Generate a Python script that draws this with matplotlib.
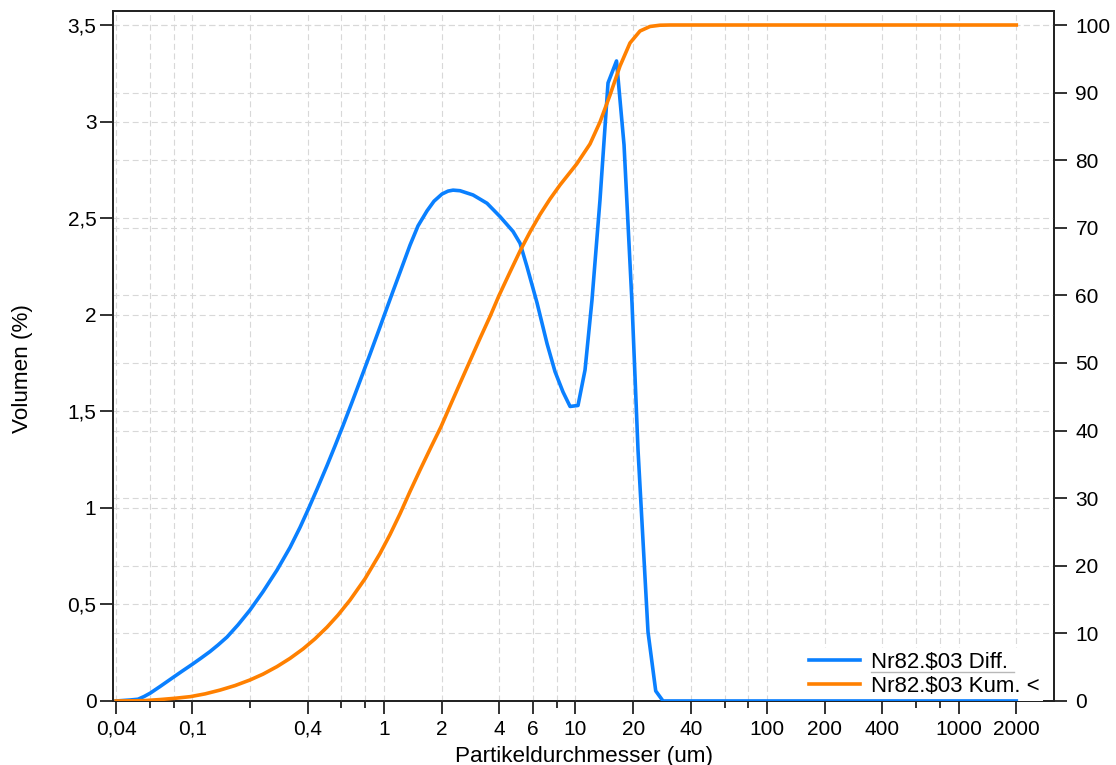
import matplotlib
matplotlib.use('Agg')
import matplotlib.pyplot as plt
from matplotlib.ticker import FixedLocator, FixedFormatter, NullFormatter
from matplotlib.lines import Line2D
from matplotlib.transforms import IdentityTransform

plt.rcParams['font.family'] = ['Liberation Sans', 'DejaVu Sans']
plt.rcParams['lines.scale_dashes'] = False

# ---- data ----
diff_x = [0.04, 0.0473, 0.0521, 0.0560, 0.0602, 0.0679, 0.0794, 0.0884, 0.0997, 0.1111,
          0.1238, 0.1363, 0.1518, 0.1732, 0.2002, 0.2340, 0.2769, 0.3237, 0.3651, 0.4019,
          0.4479, 0.5050, 0.5560, 0.6122, 0.6820, 0.7508, 0.8468, 0.9550, 1.0389, 1.1164,
          1.2292, 1.369, 1.5074, 1.6803, 1.8273, 2.0117, 2.1625, 2.2966, 2.4976, 2.920,
          3.454, 4.039, 4.723, 5.138, 5.588, 6.303, 7.108, 7.824, 8.611, 9.372, 10.31,
          11.22, 12.20, 13.43, 14.79, 16.38, 17.93, 19.73, 21.21, 23.92, 26.24, 28.64, 2000]
diff_y = [0.0, 0.005, 0.009, 0.023, 0.040, 0.075, 0.122, 0.154, 0.189, 0.222,
          0.256, 0.290, 0.331, 0.394, 0.471, 0.566, 0.678, 0.795, 0.899, 0.990,
          1.097, 1.219, 1.321, 1.426, 1.547, 1.657, 1.796, 1.937, 2.037, 2.122,
          2.234, 2.360, 2.460, 2.538, 2.588, 2.625, 2.640, 2.645, 2.642, 2.620,
          2.577, 2.508, 2.431, 2.370, 2.248, 2.061, 1.850, 1.705, 1.600, 1.525, 1.530,
          1.714, 2.077, 2.594, 3.200, 3.314, 2.879, 2.061, 1.300, 0.357, 0.052, 0.0, 0.0]

cum_x = [0.04, 0.0553, 0.0679, 0.0813, 0.0977, 0.1166, 0.1396, 0.1672, 0.2002, 0.2340,
         0.2769, 0.3237, 0.3785, 0.4372, 0.5050, 0.5764, 0.6660, 0.7973, 0.9550, 1.0769,
         1.2146, 1.369, 1.5443, 1.7629, 1.9877, 2.2148, 2.4976, 2.8166, 3.1759, 3.5815,
         3.990, 4.555, 5.138, 5.792, 6.533, 7.365, 8.304, 10.15, 11.91, 13.43, 15.15,
         17.08, 19.26, 21.72, 24.49, 27.62, 31.14, 2000]
cum_y = [0.0, 0.04, 0.21, 0.40, 0.64, 1.05, 1.61, 2.28, 3.11, 3.97,
         5.09, 6.30, 7.70, 9.20, 10.92, 12.71, 14.93, 18.08, 21.83, 24.63,
         27.70, 30.99, 34.17, 37.57, 40.58, 43.64, 47.0, 50.33, 53.65, 56.88,
         59.98, 63.46, 66.57, 69.38, 71.97, 74.26, 76.33, 79.44, 82.40, 85.65, 89.64,
         93.93, 97.34, 99.11, 99.78, 99.97, 100.0, 100.0]

series_labels = [r'Nr82.\$03 Diff.', r'Nr82.\$03 Kum. <']

x_major = [0.04, 0.1, 0.4, 1, 2, 4, 6, 10, 20, 40, 100, 200, 400, 1000, 2000]
x_major_labels = ['0,04', '0,1', '0,4', '1', '2', '4', '6', '10', '20', '40',
                  '100', '200', '400', '1000', '2000']
x_minor = [0.06, 0.08, 0.2, 0.6, 0.8, 8, 60, 80, 600, 800]

y_left_ticks = [0, 0.5, 1, 1.5, 2, 2.5, 3, 3.5]
y_left_labels = ['0', '0,5', '1', '1,5', '2', '2,5', '3', '3,5']
y_right_ticks = [0, 10, 20, 30, 40, 50, 60, 70, 80, 90, 100]
y_right_labels = ['0', '10', '20', '30', '40', '50', '60', '70', '80', '90', '100']

x_label = 'Partikeldurchmesser (um)'
y_label = 'Volumen (%)'

# ---- styling ----
BLUE = '#0a80ff'
ORANGE = '#ff8000'
GRID = '#d8d8d8'
TICK_FS = 15
LABEL_FS = 16.2
LEG_FS = 16

fig = plt.figure(figsize=(11.16, 7.65), dpi=100)
ax = fig.add_axes([0.1013, 0.0837, 0.9444 - 0.1013, 0.9856 - 0.0837])
ax2 = ax.twinx()
ax.set_zorder(2)
ax2.set_zorder(1)
ax.patch.set_visible(False)

ax.set_xscale('log')
ax.set_xlim(0.03858, 3145)
ax.set_ylim(0, 3.5725)
ax2.set_ylim(0, 102.07)

ax.xaxis.set_major_locator(FixedLocator(x_major))
ax.xaxis.set_major_formatter(FixedFormatter(x_major_labels))
ax.xaxis.set_minor_locator(FixedLocator(x_minor))
ax.xaxis.set_minor_formatter(NullFormatter())
ax.yaxis.set_major_locator(FixedLocator(y_left_ticks))
ax.yaxis.set_major_formatter(FixedFormatter(y_left_labels))
ax.yaxis.set_minor_locator(FixedLocator([]))
ax2.yaxis.set_major_locator(FixedLocator(y_right_ticks))
ax2.yaxis.set_major_formatter(FixedFormatter(y_right_labels))
ax2.yaxis.set_minor_locator(FixedLocator([]))

grid_kw = dict(color=GRID, linewidth=0.8, linestyle=(0, (4.3, 2.6)))
ax.grid(True, which='both', axis='x', **grid_kw)
ax.grid(True, which='major', axis='y', **grid_kw)
ax2.grid(True, which='major', axis='y', **grid_kw)
ax.set_axisbelow(True)

for a in (ax, ax2):
    for s in a.spines.values():
        s.set_linewidth(1.3)
        s.set_color('#222222')
ax.tick_params(axis='both', which='major', direction='out', length=9.5, width=1.3,
               labelsize=TICK_FS, color='#222222', pad=2.5)
ax.tick_params(axis='x', which='major', pad=4)
ax.tick_params(axis='x', which='minor', direction='out', length=5, width=1.3,
               color='#222222')
ax2.tick_params(axis='y', which='major', direction='out', length=9.5, width=1.3,
                labelsize=TICK_FS, color='#222222', pad=6)

# lines (orange uses the right-axis scale)
l1, = ax.plot(diff_x, diff_y, color=BLUE, lw=2.6, solid_joinstyle='round',
              label=series_labels[0], zorder=3)
l2, = ax.plot(cum_x, cum_y, color=ORANGE, lw=2.6, solid_joinstyle='round',
              transform=ax2.transData, label=series_labels[1], zorder=3)

ax.set_xlabel(x_label, fontsize=LABEL_FS, labelpad=5)
ax.set_ylabel(y_label, fontsize=LABEL_FS)
ax.yaxis.set_label_coords(-0.085, 0.482)

leg = ax.legend(handles=[l1, l2], labels=series_labels, loc='lower right',
                bbox_to_anchor=(0.9885, 0.0), fontsize=LEG_FS, frameon=True,
                fancybox=False, facecolor='white', edgecolor='none', framealpha=1,
                handlelength=2.3, handletextpad=0.5, labelspacing=0.15,
                borderaxespad=0.0, borderpad=0.17)
leg.set_zorder(2.5)

fig.canvas.draw()
bb = leg.get_texts()[0].get_window_extent()
fig.add_artist(Line2D([bb.x0, bb.x1 + 6], [bb.y0 + 1, bb.y0 + 1],
                      transform=IdentityTransform(), color='#b8b8b8', lw=1.0,
                      zorder=10))

fig.savefig('out.png', dpi=100)
